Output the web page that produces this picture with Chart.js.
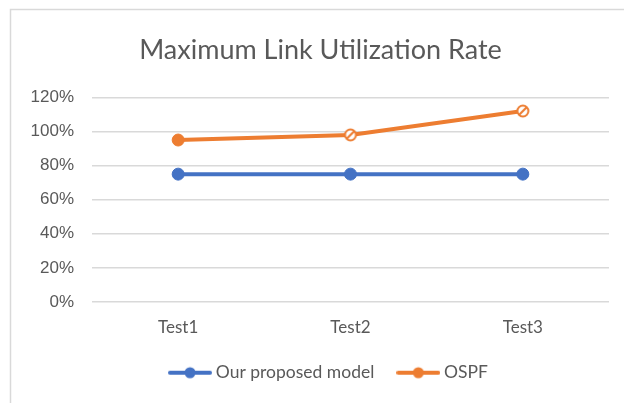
<!DOCTYPE html>
<html>
<head>
<meta charset="utf-8">
<script src="https://cdn.jsdelivr.net/npm/chart.js@4.4.1/dist/chart.umd.min.js"></script>
<style>
  html, body { margin: 0; padding: 0; background: #ffffff; }
  #wrap { position: relative; width: 624px; height: 403px; }
  canvas { display: block; }
</style>
</head>
<body>
<div id="wrap"><canvas id="c" width="624" height="403"></canvas></div>
<script>
const titleText = "Maximum Link Utilization Rate";
const categories = ["Test1", "Test2", "Test3"];
const seriesNames = ["Our proposed model", "OSPF"];
const proposedValues = [75, 75, 75];
const ospfValues = [95, 98, 112];
const yTicks = [0, 20, 40, 60, 80, 100, 120];

const BLUE = "#4472C4";
const ORANGE = "#ED7D31";
const TEXT = "#595959";

function legendMarker(color) {
  const c = document.createElement("canvas");
  c.width = 44; c.height = 14;
  const x = c.getContext("2d");
  x.strokeStyle = color; x.lineWidth = 4; x.lineCap = "round";
  x.beginPath(); x.moveTo(2, 7); x.lineTo(42, 7); x.stroke();
  x.fillStyle = color;
  x.beginPath(); x.arc(22, 7, 5.5, 0, Math.PI * 2); x.fill();
  return c;
}
function hatchedMarker(color) {
  const c = document.createElement("canvas");
  c.width = 16; c.height = 16;
  const x = c.getContext("2d");
  x.fillStyle = "#ffffff";
  x.beginPath(); x.arc(8, 8, 5.5, 0, Math.PI * 2); x.fill();
  x.strokeStyle = color; x.lineWidth = 2;
  x.beginPath(); x.arc(8, 8, 5.5, 0, Math.PI * 2); x.stroke();
  x.save();
  x.beginPath(); x.arc(8, 8, 5.5, 0, Math.PI * 2); x.clip();
  x.lineWidth = 2.2;
  x.beginPath(); x.moveTo(3, 13); x.lineTo(13, 3); x.stroke();
  x.restore();
  return c;
}
const hatch = hatchedMarker(ORANGE);

const frame = {
  id: "frame",
  beforeDraw(chart) {
    const ctx = chart.ctx;
    ctx.save();
    ctx.strokeStyle = "#d9d9d9";
    ctx.lineWidth = 1.5;
    ctx.beginPath();
    ctx.moveTo(10.5, 403); ctx.lineTo(10.5, 9.5); ctx.lineTo(624, 9.5);
    ctx.stroke();
    ctx.restore();
  }
};

const nudge = {
  id: "nudge",
  afterLayout(chart) {
    const lg = chart.legend;
    if (lg) { lg.left += 16; lg.right += 16; lg.top -= 1; lg.bottom -= 1; }
    const tt = chart.titleBlock;
    if (tt) { tt.left += 6; tt.right += 6; }
  }
};

new Chart(document.getElementById("c"), {
  type: "line",
  data: {
    labels: categories,
    datasets: [
      {
        label: seriesNames[0],
        data: proposedValues,
        borderColor: BLUE,
        backgroundColor: BLUE,
        borderWidth: 4,
        pointRadius: 6,
        pointBackgroundColor: BLUE,
        pointBorderColor: BLUE,
        pointBorderWidth: 1,
        pointStyle: "circle",
        tension: 0
      },
      {
        label: seriesNames[1],
        data: ospfValues,
        borderColor: ORANGE,
        backgroundColor: ORANGE,
        borderWidth: 4,
        pointRadius: 6,
        pointBackgroundColor: ORANGE,
        pointBorderColor: ORANGE,
        pointBorderWidth: 1,
        pointStyle: ["circle", hatch, hatch],
        tension: 0
      }
    ]
  },
  plugins: [frame, nudge],
  options: {
    responsive: false,
    animation: false,
    layout: { padding: { left: 20, right: 15, top: 18, bottom: 10.5 } },
    plugins: {
      title: {
        display: true,
        text: titleText,
        color: TEXT,
        font: { family: "Lato", size: 27, weight: "normal" },
        padding: { top: 16, bottom: 31 }
      },
      legend: {
        position: "bottom",
        labels: {
          color: TEXT,
          font: { family: "Lato", size: 17.5 },
          usePointStyle: true,
          pointStyleWidth: 34,
          padding: 27,
          generateLabels(chart) {
            return chart.data.datasets.map((ds, i) => ({
              text: ds.label,
              fillStyle: ds.borderColor,
              strokeStyle: ds.borderColor,
              fontColor: TEXT,
              lineWidth: 0,
              pointStyle: legendMarker(ds.borderColor),
              datasetIndex: i,
              hidden: false
            }));
          }
        }
      },
      tooltip: { enabled: false }
    },
    scales: {
      x: {
        offset: true,
        afterFit(scale) { scale.height = 36; },
        grid: { display: false, drawTicks: false },
        border: { display: false },
        ticks: {
          color: TEXT,
          font: { family: "Lato", size: 17 },
          padding: 15
        }
      },
      y: {
        min: 0,
        max: 120,
        afterBuildTicks(scale) { scale.ticks = yTicks.map(v => ({ value: v })); },
        afterFit(scale) { scale.width = 72; },
        grid: { color: "#d9d9d9", lineWidth: 1.5, drawTicks: false },
        border: { display: false },
        ticks: {
          color: TEXT,
          font: { family: "Liberation Sans", size: 17 },
          padding: 18,
          callback: v => v + "%"
        }
      }
    }
  }
});
</script>
</body>
</html>
